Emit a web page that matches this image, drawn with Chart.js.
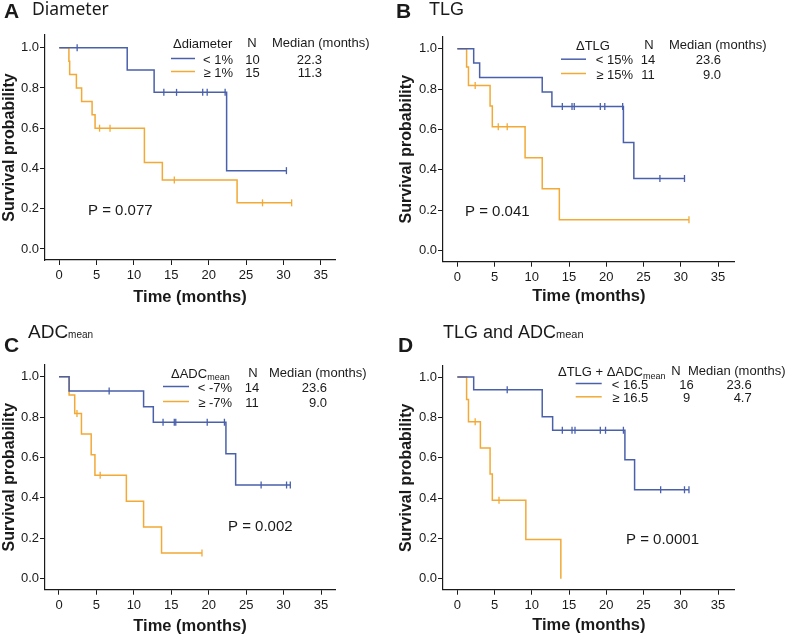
<!DOCTYPE html>
<html>
<head>
<meta charset="utf-8">
<script src="https://cdn.jsdelivr.net/npm/chart.js@4"></script>
<style>
  body { margin: 0; background: #fff; }
  #wrap { position: relative; width: 786px; height: 636px; background: #fff; }
  canvas { position: absolute; }
</style>
</head>
<body>
<div id="wrap">
  <canvas id="cA" width="393" height="318" style="left:0;top:0"></canvas>
  <canvas id="cB" width="393" height="318" style="left:393px;top:0"></canvas>
  <canvas id="cC" width="393" height="318" style="left:0;top:318px"></canvas>
  <canvas id="cD" width="393" height="318" style="left:393px;top:318px"></canvas>
</div>
<script>
// ---- data ----
// each curve: step times and survival after that step; last entry = end of follow-up
const aBlueT = [0, 9.1, 12.7, 22.4, 30.4];
const aBlueS = [1, 0.889, 0.778, 0.389, 0.389];
const aBlueCens = [2.4, 14.0, 15.7, 19.2, 19.8, 22.2, 30.4];
const aOrangeT = [0, 1.3, 1.4, 2.3, 3.0, 4.4, 4.8, 11.4, 13.8, 23.8, 31.1];
const aOrangeS = [1, 0.933, 0.867, 0.8, 0.733, 0.667, 0.6, 0.429, 0.343, 0.229, 0.229];
const aOrangeCens = [5.4, 6.8, 15.4, 27.2, 31.1];

const bBlueT = [0, 2.2, 3.0, 11.4, 12.7, 22.3, 23.7, 30.5];
const bBlueS = [1, 0.929, 0.857, 0.786, 0.714, 0.536, 0.357, 0.357];
const bBlueCens = [14.1, 15.4, 15.7, 19.2, 19.8, 22.2, 27.2, 30.5];
const bOrangeT = [0, 1.25, 1.5, 4.4, 4.7, 9.1, 11.4, 13.7, 31.1];
const bOrangeS = [1, 0.909, 0.818, 0.716, 0.614, 0.46, 0.307, 0.153, 0.153];
const bOrangeCens = [2.4, 5.5, 6.7, 31.1];

const cBlueT = [0, 1.35, 11.3, 12.6, 22.3, 23.6, 30.9];
const cBlueS = [1, 0.929, 0.851, 0.774, 0.619, 0.464, 0.464];
const cBlueCens = [6.7, 13.9, 15.4, 15.6, 19.8, 22.1, 27.0, 30.4, 30.9];
const cOrangeT = [0, 1.35, 2.1, 3.0, 4.3, 4.8, 9.0, 11.3, 13.7, 19.1];
const cOrangeS = [1, 0.909, 0.818, 0.716, 0.614, 0.512, 0.384, 0.256, 0.128, 0.128];
const cOrangeCens = [2.4, 5.5, 19.1];

const dBlueT = [0, 2.2, 11.4, 12.8, 22.5, 23.8, 31.1];
const dBlueS = [1, 0.9375, 0.804, 0.737, 0.59, 0.442, 0.442];
const dBlueCens = [6.7, 14.1, 15.4, 15.8, 19.2, 19.9, 22.3, 27.3, 30.5, 31.1];
const dOrangeT = [0, 1.25, 1.5, 3.1, 4.4, 4.7, 9.2, 13.9];
const dOrangeS = [1, 0.889, 0.778, 0.648, 0.519, 0.389, 0.195, 0];
const dOrangeCens = [2.4, 5.6];

const xTickValues = [0, 5, 10, 15, 20, 25, 30, 35];
const yTickValues = [0, 0.2, 0.4, 0.6, 0.8, 1.0];

// legend table text
const aGroups = ['< 1%', '≥ 1%'];   const aN = [10, 15]; const aMedians = ['22.3', '11.3'];
const bGroups = ['< 15%', '≥ 15%']; const bN = [14, 11]; const bMedians = ['23.6', '9.0'];
const cGroups = ['< -7%', '≥ -7%']; const cN = [14, 11]; const cMedians = ['23.6', '9.0'];
const dGroups = ['< 16.5', '≥ 16.5']; const dN = [16, 9]; const dMedians = ['23.6', '4.7'];

const BLUE = '#4a60ab';
const ORANGE = '#f2a935';
const INK = '#1a1a1a';
const FONT = '"Liberation Sans", Arial, sans-serif';

function survAt(T, S, t) {
  let s = S[0];
  for (let i = 0; i < T.length; i++) if (T[i] <= t) s = S[i];
  return s;
}

function curve(T, S, color) {
  return {
    data: T.map((t, i) => ({ x: t, y: S[i] })),
    showLine: true, stepped: true,
    borderColor: color, borderWidth: 1.5,
    pointRadius: 0, fill: false
  };
}

function censors(C, T, S, color) {
  return {
    data: C.map(t => ({ x: t, y: survAt(T, S, t) })),
    showLine: false,
    pointStyle: 'line', rotation: 90, pointRadius: 3.5,
    borderColor: color, backgroundColor: color, borderWidth: 1.3
  };
}

function drawRuns(ctx, runs, x, y, size, subSize, subDrop, family) {
  ctx.save();
  ctx.textAlign = 'left';
  ctx.textBaseline = 'alphabetic';
  const base = y + size * 0.35;
  let cx = x;
  runs.forEach(r => {
    ctx.font = (r.sub ? subSize : size) + 'px ' + family;
    ctx.fillText(r.t, cx, r.sub ? base + subDrop : base);
    cx += ctx.measureText(r.t).width;
  });
  ctx.restore();
}

function drawPanelText(chart, p) {
  const ctx = chart.ctx;
  const L = p.leg;
  ctx.save();
  ctx.fillStyle = INK;
  ctx.textBaseline = 'middle';

  // panel letter + title
  ctx.font = 'bold 21px ' + FONT;
  ctx.textAlign = 'left';
  ctx.fillText(p.letter, p.letterX, p.letterY);
  drawRuns(ctx, p.title, p.titleX, p.titleY, p.titleSize, p.titleSub, 0, p.titleFont);

  // legend table
  drawRuns(ctx, p.legHead, L.headX, L.headY, 13, 9, 2.5, FONT);
  ctx.font = '13px ' + FONT;
  ctx.textAlign = 'center';
  ctx.fillText('N', L.nHeadX, L.headY);
  ctx.textAlign = 'left';
  ctx.fillText('Median (months)', L.medHeadX, L.headY);
  [BLUE, ORANGE].forEach((c, i) => {
    const y = L.rowY[i];
    ctx.strokeStyle = c;
    ctx.lineWidth = 1.5;
    ctx.beginPath();
    ctx.moveTo(L.lineX1, y - 1.5);
    ctx.lineTo(L.lineX2, y - 1.5);
    ctx.stroke();
    ctx.textAlign = 'right';
    ctx.fillText(p.groups[i], L.groupRight, y);
    ctx.textAlign = 'center';
    ctx.fillText(String(p.n[i]), L.nX, y);
    ctx.textAlign = 'right';
    ctx.fillText(p.medians[i], L.medRight, y);
  });

  // p value
  ctx.font = '15px ' + FONT;
  ctx.textAlign = 'left';
  ctx.fillText(p.pText, p.pX, p.pY);
  ctx.restore();
}

function makePanel(id, p) {
  const a = p.area;
  new Chart(document.getElementById(id), {
    type: 'scatter',
    data: {
      datasets: [
        curve(p.blueT, p.blueS, BLUE),
        curve(p.orT, p.orS, ORANGE),
        censors(p.blueC, p.blueT, p.blueS, BLUE),
        censors(p.orC, p.orT, p.orS, ORANGE)
      ]
    },
    options: {
      responsive: false,
      animation: false,
      layout: { padding: { left: 0, top: a.top, right: 393 - a.right, bottom: 0 } },
      plugins: { legend: { display: false }, tooltip: { enabled: false } },
      scales: {
        x: {
          type: 'linear', min: p.xMin, max: p.xMax,
          afterFit: s => { s.height = 318 - a.bottom; },
          afterBuildTicks: s => { s.ticks = xTickValues.map(v => ({ value: v })); },
          grid: { drawOnChartArea: false, tickLength: 5, color: INK, lineWidth: 1 },
          border: { color: INK, width: 1.2 },
          ticks: { color: INK, font: { family: FONT, size: 13 }, padding: 3, maxRotation: 0, autoSkip: false },
          title: { display: true, text: 'Time (months)', color: INK,
                   font: { family: FONT, size: 16.5, weight: 'bold' }, padding: { top: 0, bottom: p.xTitlePad } }
        },
        y: {
          type: 'linear', min: p.yMin, max: p.yMax,
          afterFit: s => { s.width = a.left; },
          afterBuildTicks: s => { s.ticks = yTickValues.map(v => ({ value: v })); },
          grid: { drawOnChartArea: false, tickLength: 5, color: INK, lineWidth: 1 },
          border: { color: INK, width: 1.2 },
          ticks: { color: INK, font: { family: FONT, size: 13 }, padding: 1, callback: v => Number(v).toFixed(1) },
          title: { display: true, text: 'Survival probability', color: INK,
                   font: { family: FONT, size: 16, weight: 'bold' }, padding: { top: p.yTitlePad, bottom: 0 } }
        }
      }
    },
    plugins: [{ id: 'panelText', afterDraw: chart => drawPanelText(chart, p) }]
  });
}

makePanel('cA', {
  blueT: aBlueT, blueS: aBlueS, blueC: aBlueCens,
  orT: aOrangeT, orS: aOrangeS, orC: aOrangeCens,
  area: { left: 45, top: 35, right: 335, bottom: 260 },
  xMin: -1.9, xMax: 36.9, yMin: -0.055, yMax: 1.063,
  xTitlePad: 11.1, yTitlePad: 0.2,
  letter: 'A', letterX: 4, letterY: 12,
  title: [{ t: 'Diameter' }], titleX: 32, titleY: 9, titleSize: 17.5, titleSub: 10, titleFont: '"Noto Sans", sans-serif',
  legHead: [{ t: 'Δdiameter' }], groups: aGroups, n: aN, medians: aMedians,
  leg: { headX: 173, headY: 43, nHeadX: 252, medHeadX: 272, rowY: [60, 73],
         lineX1: 171, lineX2: 195, groupRight: 233, nX: 252.5, medRight: 322 },
  pText: 'P = 0.077', pX: 88, pY: 211
});

makePanel('cB', {
  blueT: bBlueT, blueS: bBlueS, blueC: bBlueCens,
  orT: bOrangeT, orS: bOrangeS, orC: bOrangeCens,
  area: { left: 50, top: 36.7, right: 341.7, bottom: 261.7 },
  xMin: -1.92, xMax: 37.24, yMin: -0.054, yMax: 1.059,
  xTitlePad: 12.1, yTitlePad: 3.8,
  letter: 'B', letterX: 3, letterY: 12.5,
  title: [{ t: 'TLG' }], titleX: 36, titleY: 9, titleSize: 18, titleSub: 10, titleFont: FONT,
  legHead: [{ t: 'ΔTLG' }], groups: bGroups, n: bN, medians: bMedians,
  leg: { headX: 183, headY: 45, nHeadX: 256, medHeadX: 276, rowY: [60.7, 75],
         lineX1: 168, lineX2: 193, groupRight: 240, nX: 255, medRight: 328 },
  pText: 'P = 0.041', pX: 72, pY: 212
});

makePanel('cC', {
  blueT: cBlueT, blueS: cBlueS, blueC: cBlueCens,
  orT: cOrangeT, orS: cOrangeS, orC: cOrangeCens,
  area: { left: 45, top: 46.7, right: 335, bottom: 271.7 },
  xMin: -1.87, xMax: 36.87, yMin: -0.054, yMax: 1.059,
  xTitlePad: 0, yTitlePad: 0,
  letter: 'C', letterX: 4, letterY: 28.5,
  title: [{ t: 'ADC' }, { t: 'mean', sub: true }], titleX: 28, titleY: 13, titleSize: 19, titleSub: 10, titleFont: FONT,
  legHead: [{ t: 'ΔADC' }, { t: 'mean', sub: true }], groups: cGroups, n: cN, medians: cMedians,
  leg: { headX: 171, headY: 55, nHeadX: 253, medHeadX: 269, rowY: [70, 85],
         lineX1: 163, lineX2: 189, groupRight: 232, nX: 252, medRight: 327 },
  pText: 'P = 0.002', pX: 228, pY: 209
});

makePanel('cD', {
  blueT: dBlueT, blueS: dBlueS, blueC: dBlueCens,
  orT: dOrangeT, orS: dOrangeS, orC: dOrangeCens,
  area: { left: 50, top: 48, right: 341.7, bottom: 271.7 },
  xMin: -1.92, xMax: 37.24, yMin: -0.054, yMax: 1.055,
  xTitlePad: 0.4, yTitlePad: 4.2,
  letter: 'D', letterX: 5, letterY: 28.5,
  title: [{ t: 'TLG and ADC' }, { t: 'mean', sub: true }], titleX: 50, titleY: 13.5, titleSize: 18, titleSub: 11, titleFont: FONT,
  legHead: [{ t: 'ΔTLG + ΔADC' }, { t: 'mean', sub: true }], groups: dGroups, n: dN, medians: dMedians,
  leg: { headX: 165, headY: 53.7, nHeadX: 283, medHeadX: 295, rowY: [67, 80.3],
         lineX1: 182.7, lineX2: 208.7, groupRight: 255.3, nX: 293.5, medRight: 358.7 },
  pText: 'P = 0.0001', pX: 233, pY: 222
});
</script>
</body>
</html>
